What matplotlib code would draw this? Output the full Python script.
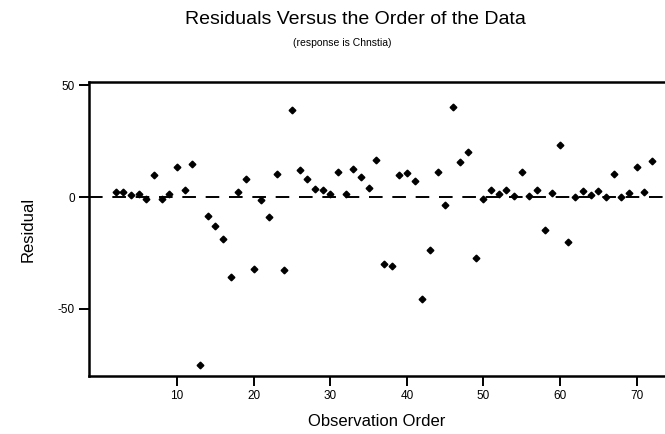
import numpy as np
from matplotlib import pyplot as plt

# observation order (first visible point sits at 2 on the axis)
order = np.arange(2, 73)
residuals = [
    2.3, 2.3, 0.8, 1.5, -0.9, 10.0, -0.9, 1.4, 13.3, 3.2,
    15.0, -75.1, -8.6, -12.9, -18.8, -35.6, 2.3, 8.1, -32.2, -1.1,
    -8.8, 10.5, -32.6, 39.1, 12.2, 8.1, 3.8, 3.1, 1.3, 11.3,
    1.4, 12.4, 8.9, 4.0, 16.6, -29.8, -30.7, 9.7, 10.6, 7.1,
    -45.7, -23.8, 11.4, -3.6, 40.1, 15.8, 20.0, -27.4, -0.7, 3.1,
    1.2, 3.0, 0.4, 11.3, 0.4, 3.0, -14.8, 2.0, 23.2, -19.9,
    0.2, 2.8, 0.8, 2.9, 0.2, 10.2, 0.0, 1.9, 13.6, 2.4,
    16.2,
]
x_ticks = [10, 20, 30, 40, 50, 60, 70]
y_ticks = [-50, 0, 50]

plt.rcParams["font.family"] = ["Liberation Sans", "DejaVu Sans"]
plt.rcParams["axes.unicode_minus"] = False

fig = plt.figure(figsize = (6.65, 4.34), dpi = 100)
ax = fig.add_axes([89 / 665, 58 / 434, 576 / 665, 294 / 434])

ax.plot(order, residuals, linestyle = "none", marker = "D",
        markersize = 3.4, color = "black")
ax.axhline(0, color = "black", linewidth = 1.4, linestyle = (0, (7, 5)))

ax.set_xlim(-1.5, 73.7)
ax.set_ylim(-80, 51.5)
ax.set_xticks(x_ticks)
ax.set_yticks(y_ticks)
ax.tick_params(axis = "both", direction = "out", width = 1.4, length = 7,
               labelsize = 8.5, color = "black", pad = 3)

for side in ("left", "top", "bottom"):
    ax.spines[side].set_linewidth(1.8)
ax.spines["right"].set_visible(False)

ax.set_xlabel("Observation Order", fontsize = 12)
ax.xaxis.set_label_coords(0.5, -0.13)
ax.set_ylabel("Residual", fontsize = 12)
ax.yaxis.set_label_coords(-0.092, 0.5)

fig.text(355 / 665, 1 - 20 / 434, "Residuals Versus the Order of the Data",
         ha = "center", va = "center", fontsize = 14)
fig.text(342 / 665, 1 - 43 / 434, "(response is Chnstia)",
         ha = "center", va = "center", fontsize = 7.5)

plt.savefig("out.png", dpi = 100)
plt.close()
